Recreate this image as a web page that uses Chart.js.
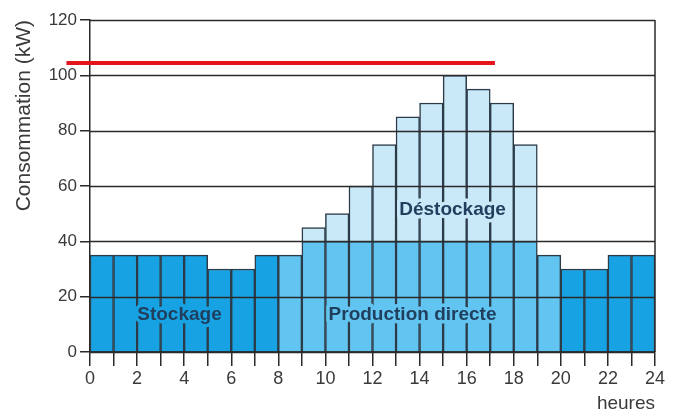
<!DOCTYPE html>
<html>
<head>
<meta charset="utf-8">
<script src="https://cdn.jsdelivr.net/npm/chart.js@4.4.1/dist/chart.umd.min.js"></script>
<style>
  html, body { margin: 0; padding: 0; background: #fff; }
  #chart { display: block; }
</style>
</head>
<body>
<canvas id="chart" width="675" height="415"></canvas>
<script>
// Hourly consumption profile: stockage / production directe / déstockage
const hours = ['0', '1', '2', '3', '4', '5', '6', '7', '8', '9', '10', '11',
  '12', '13', '14', '15', '16', '17', '18', '19', '20', '21', '22', '23'];
const stockage = [35, 35, 35, 35, 35, 30, 30, 35, null, null, null, null,
  null, null, null, null, null, null, null, null, 30, 30, 35, 35];
const production = [null, null, null, null, null, null, null, null, 35, 40, 40, 40,
  40, 40, 40, 40, 40, 40, 40, 35, null, null, null, null];
const destockage = [null, null, null, null, null, null, null, null, null, 5, 10, 20,
  35, 45, 50, 60, 55, 50, 35, null, null, null, null, null];
const yTicks = [0, 20, 40, 60, 80, 100, 120];
const xTicks = [0, 2, 4, 6, 8, 10, 12, 14, 16, 18, 20, 22, 24];
const puissanceMax = 104.5;      // red limit line (kW)
const limiteDebut = -1;          // starts left of the axis
const limiteFin = 17.2;

const colors = {
  dark: '#17a3e3',
  mid: '#62c4f0',
  light: '#c9e8f8',
  border: '#2c3b48',
  grid: '#2a2a2a',
  text: '#3a3a3a',
  label: '#1f3f5d',
  red: '#e4141b',
};

const FONT = '"Liberation Sans", Arial, sans-serif';

// grid lines, frame, area labels and red line drawn above the bars
const overlay = {
  id: 'overlay',
  afterDatasetsDraw(chart) {
    const { ctx, chartArea: a, scales } = chart;
    const y = scales.y, hx = scales.hx;
    ctx.save();
    ctx.strokeStyle = colors.grid;
    ctx.lineWidth = 1.5;
    yTicks.forEach(v => {
      const py = Math.round(y.getPixelForValue(v)) + 0.5;
      ctx.beginPath();
      ctx.moveTo(a.left, py);
      ctx.lineTo(a.right, py);
      ctx.stroke();
    });
    ctx.beginPath();
    ctx.moveTo(a.right, a.top);
    ctx.lineTo(a.right, a.bottom);
    ctx.stroke();

    const labels = [
      { text: 'Stockage', h: 3.8, v: 13.5, halo: colors.dark },
      { text: 'Production directe', h: 13.7, v: 13.5, halo: colors.mid },
      { text: 'Déstockage', h: 15.4, v: 51.5, halo: colors.light },
    ];
    ctx.font = 'bold 19px ' + FONT;
    ctx.textAlign = 'center';
    ctx.textBaseline = 'middle';
    ctx.lineJoin = 'round';
    labels.forEach(l => {
      const px = hx.getPixelForValue(l.h), py = y.getPixelForValue(l.v);
      ctx.strokeStyle = l.halo;
      ctx.lineWidth = 7;
      ctx.strokeText(l.text, px, py);
      ctx.fillStyle = colors.label;
      ctx.fillText(l.text, px, py);
    });

    ctx.strokeStyle = colors.red;
    ctx.lineWidth = 4;
    const ry = y.getPixelForValue(puissanceMax);
    ctx.beginPath();
    ctx.moveTo(hx.getPixelForValue(limiteDebut), ry);
    ctx.lineTo(hx.getPixelForValue(limiteFin), ry);
    ctx.stroke();
    ctx.restore();
  }
};

const barStyle = { borderColor: colors.border, borderWidth: 1.5, barPercentage: 1, categoryPercentage: 1 };

new Chart(document.getElementById('chart'), {
  type: 'bar',
  data: {
    labels: hours,
    datasets: [
      { label: 'Stockage', data: stockage, backgroundColor: colors.dark, ...barStyle },
      { label: 'Production directe', data: production, backgroundColor: colors.mid, ...barStyle },
      { label: 'Déstockage', data: destockage, backgroundColor: colors.light, ...barStyle },
    ],
  },
  options: {
    responsive: false,
    animation: false,
    layout: { padding: { top: 20, right: 20, left: 0, bottom: 0 } },
    plugins: { legend: { display: false }, tooltip: { enabled: false } },
    scales: {
      x: { stacked: true, display: false },
      hx: {
        type: 'linear',
        axis: 'x',
        position: 'bottom',
        min: 0,
        max: 24,
        offset: false,
        afterBuildTicks: s => { s.ticks = Array.from({ length: 25 }, (_, i) => ({ value: i })); },
        afterFit: s => { s.height = 63; },
        grid: { offset: false, drawOnChartArea: false, tickLength: 14, color: colors.grid, lineWidth: 1.5 },
        border: { display: true, color: colors.grid, width: 1.5 },
        ticks: {
          padding: 2,
          maxRotation: 0,
          autoSkip: false,
          color: colors.text,
          font: { family: FONT, size: 18 },
          callback: v => xTicks.includes(v) ? String(v) : '',
        },
        title: {
          display: true, text: 'heures', align: 'end', color: colors.text,
          font: { family: FONT, size: 19 }, padding: { top: 0, bottom: 0 },
        },
      },
      y: {
        stacked: true,
        min: 0,
        max: 120,
        afterBuildTicks: s => { s.ticks = yTicks.map(v => ({ value: v })); },
        afterFit: s => { s.width = 90; },
        grid: { drawOnChartArea: false, tickLength: 10, color: colors.grid, lineWidth: 1.5 },
        border: { display: true, color: colors.grid, width: 1.5 },
        ticks: { padding: 3, color: colors.text, font: { family: FONT, size: 17 } },
        title: {
          display: true, text: 'Consommation (kW)', align: 'end', color: colors.text,
          font: { family: FONT, size: 21 }, padding: { top: 12, bottom: 0 },
        },
      },
    },
  },
  plugins: [overlay],
});
</script>
</body>
</html>
